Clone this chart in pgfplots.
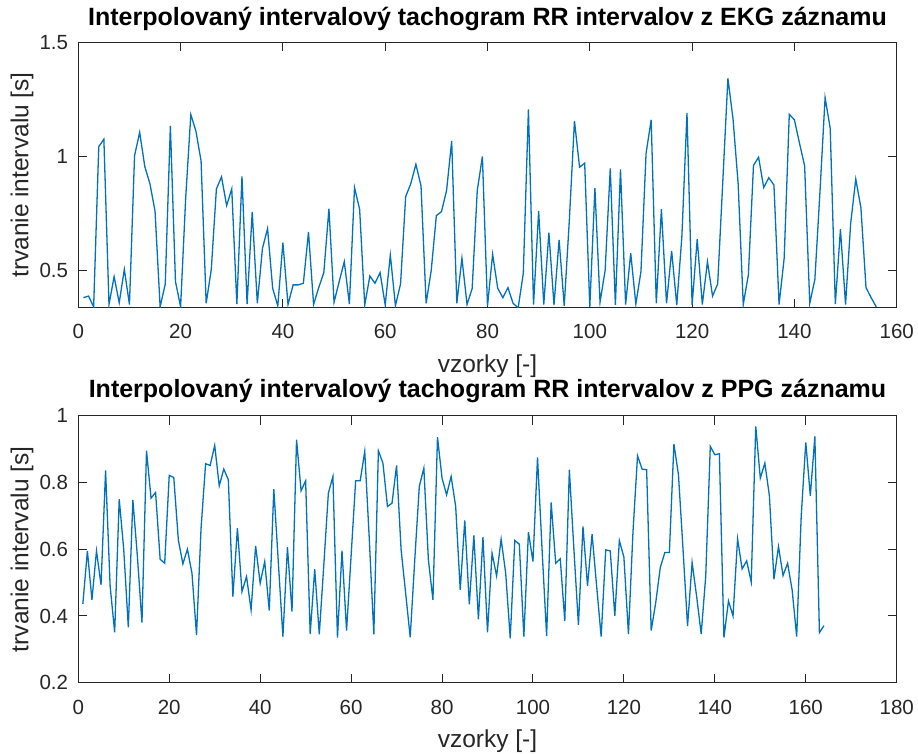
\documentclass[border=0pt]{standalone}
\usepackage{fontspec}
\setmainfont{Liberation Sans}
\usepackage{pgfplots}
\pgfplotsset{compat=1.18}
\usepackage{pgfplotstable}

\definecolor{mblue}{rgb}{0,0.447,0.741}
\definecolor{axgray}{rgb}{0.15,0.15,0.15}

% EKG tachogram (sample, interval in s)
\pgfplotstableread{
x y
1 0.38
2 0.387
3 0.34
4 1.042
5 1.075
6 0.35
7 0.472
8 0.358
9 0.504
10 0.35
11 1.003
12 1.105
13 0.955
14 0.88
15 0.76
16 0.34
17 0.44
18 1.133
19 0.45
20 0.34
21 0.82
22 1.183
23 1.11
24 0.98
25 0.355
26 0.504
27 0.857
28 0.91
29 0.784
30 0.857
31 0.352
32 0.912
33 0.352
34 0.756
35 0.355
36 0.596
37 0.683
38 0.421
39 0.344
40 0.621
41 0.35
42 0.436
43 0.436
44 0.443
45 0.668
46 0.35
47 0.424
48 0.49
49 0.77
50 0.36
51 0.45
52 0.538
53 0.352
54 0.863
55 0.768
56 0.348
57 0.475
58 0.443
59 0.49
60 0.348
61 0.567
62 0.345
63 0.44
64 0.823
65 0.88
66 0.965
67 0.87
68 0.355
69 0.5
70 0.74
71 0.757
72 0.85
73 1.067
74 0.355
75 0.553
76 0.35
77 0.42
78 0.85
79 0.999
80 0.344
81 0.57
82 0.421
83 0.38
84 0.424
85 0.355
86 0.336
87 0.487
88 1.206
89 0.35
90 0.76
91 0.35
92 0.665
93 0.348
94 0.633
95 0.344
96 0.72
97 1.155
98 0.952
99 0.97
100 0.34
101 0.86
102 0.36
103 0.5
104 0.947
105 0.348
106 0.943
107 0.35
108 0.575
109 0.352
110 0.494
111 1.013
112 1.16
113 0.355
114 0.768
115 0.355
116 0.585
117 0.348
118 0.648
119 1.19
120 0.348
121 0.637
122 0.35
123 0.538
124 0.387
125 0.44
126 0.89
127 1.342
128 1.164
129 0.88
130 0.35
131 0.48
132 0.96
133 0.996
134 0.863
135 0.906
136 0.874
137 0.35
138 0.553
139 1.184
140 1.16
141 1.057
142 0.958
143 0.355
144 0.46
145 0.845
146 1.257
147 1.123
148 0.352
149 0.68
150 0.35
151 0.706
152 0.9
153 0.775
154 0.424
155 0.38
156 0.34
}\ekg

% PPG tachogram
\pgfplotstableread{
x y
1 0.436
2 0.595
3 0.448
4 0.595
5 0.493
6 0.836
7 0.49
8 0.351
9 0.75
10 0.598
11 0.366
12 0.748
13 0.578
14 0.38
15 0.895
16 0.753
17 0.77
18 0.57
19 0.558
20 0.821
21 0.815
22 0.628
23 0.556
24 0.60
25 0.528
26 0.343
27 0.663
28 0.856
29 0.851
30 0.911
31 0.79
32 0.84
33 0.808
34 0.458
35 0.663
36 0.473
37 0.518
38 0.418
39 0.61
40 0.498
41 0.563
42 0.416
43 0.78
44 0.56
45 0.338
46 0.606
47 0.413
48 0.928
49 0.775
50 0.805
51 0.346
52 0.54
53 0.345
54 0.553
55 0.768
56 0.818
57 0.335
58 0.596
59 0.356
60 0.58
61 0.805
62 0.805
63 0.893
64 0.63
65 0.345
66 0.895
67 0.858
68 0.728
69 0.738
70 0.851
71 0.598
72 0.468
73 0.336
74 0.568
75 0.788
76 0.843
77 0.568
78 0.448
79 0.936
80 0.813
81 0.763
82 0.818
83 0.728
84 0.478
85 0.686
86 0.435
87 0.641
88 0.39
89 0.636
90 0.351
91 0.588
92 0.52
93 0.63
94 0.528
95 0.333
96 0.626
97 0.615
98 0.338
99 0.651
100 0.563
101 0.875
102 0.6
103 0.34
104 0.74
105 0.558
106 0.571
107 0.385
108 0.838
109 0.6
110 0.373
111 0.668
112 0.49
113 0.645
114 0.49
115 0.338
116 0.598
117 0.595
118 0.40
119 0.626
120 0.576
121 0.346
122 0.653
123 0.88
124 0.84
125 0.838
126 0.356
127 0.44
128 0.545
129 0.59
130 0.59
131 0.915
132 0.823
133 0.6
134 0.37
135 0.56
136 0.458
137 0.346
138 0.52
139 0.908
140 0.883
141 0.886
142 0.335
143 0.445
144 0.40
145 0.631
146 0.541
147 0.565
148 0.502
149 0.968
150 0.813
151 0.858
152 0.76
153 0.51
154 0.608
155 0.521
156 0.558
157 0.478
158 0.338
159 0.7
160 0.92
161 0.76
162 0.938
163 0.35
164 0.371
}\ppg

\pgfplotsset{
  tacho/.style={
    scale only axis,
    width=818.4pt,
    axis line style={axgray, line width=1pt},
    every tick/.style={axgray, line width=1pt},
    major tick length=9pt,
    tick align=inside,
    /pgf/number format/assume math mode=true,
    /pgf/number format/fixed,
    ticklabel style={font=\fontsize{20.5}{24}\selectfont, text=axgray},
    xticklabel style={anchor=base, inner sep=0pt, yshift=-31.3pt},
    yticklabel style={anchor=east, inner sep=0pt, xshift=-10pt},
    label style={font=\fontsize{24.5}{28}\selectfont, text=axgray},
    title style={font=\fontsize{25}{29}\selectfont\bfseries, anchor=base, inner sep=0pt},
    xlabel style={at={([yshift=-65pt]axis description cs:0.5,0)}, anchor=base, inner sep=0pt},
    ylabel style={at={([xshift=-50pt]axis description cs:0,0.5)}, anchor=base, inner sep=0pt},
    xlabel={vzorky [-]},
    ylabel={trvanie intervalu [s]},
    xmin=0,
  },
}

\begin{document}
\begin{tikzpicture}
\begin{axis}[tacho,
  at={(78.3pt,445.3pt)}, anchor=south west,
  height=265.4pt,
  xmax=160, ymin=0.336, ymax=1.5,
  xtick={0,20,...,160}, ytick={0.5,1,1.5},
  title style={at={([yshift=10.4pt]axis description cs:0.5,1)}},
  title={Interpolovaný intervalový tachogram RR intervalov z EKG záznamu},
]
  \addplot[mblue, line width=1.3pt] table[x=x, y=y] {\ekg};
\end{axis}
\begin{axis}[tacho,
  at={(78.3pt,70.3pt)}, anchor=south west,
  height=267pt,
  xmax=180, ymin=0.2, ymax=1,
  xtick={0,20,...,180}, ytick={0.2,0.4,...,1.0},
  title style={at={([yshift=12pt]axis description cs:0.5,1)}},
  title={Interpolovaný intervalový tachogram RR intervalov z PPG záznamu},
]
  \addplot[mblue, line width=1.3pt] table[x=x, y=y] {\ppg};
\end{axis}
\pgfresetboundingbox
\path[use as bounding box] (0,0) rectangle (918pt,753pt);
\end{tikzpicture}
\end{document}
